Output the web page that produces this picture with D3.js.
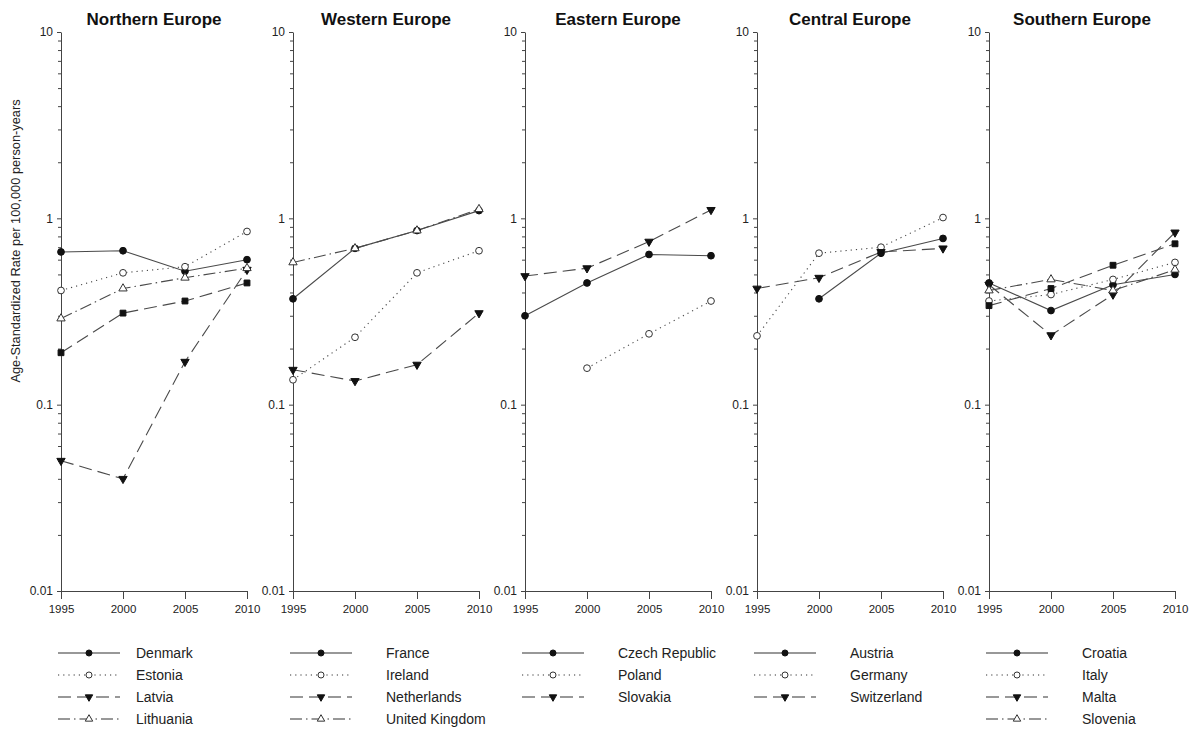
<!DOCTYPE html>
<html>
<head>
<meta charset="utf-8">
<script src="https://cdn.jsdelivr.net/npm/d3@7"></script>
<style>
  body { margin: 0; background: #ffffff; }
  svg { font-family: Arial, "Liberation Sans", sans-serif; }
  .axis path, .axis line { stroke: #444; }
</style>
</head>
<body>
<div id="chart"></div>
<script>
const WIDTH = 1191;
const HEIGHT = 729;

const PANEL_LEFT = [61, 293, 525, 757, 989];
const PANEL_WIDTH = 186;
const Y_TOP = 32;
const Y_BOTTOM = 591;

const LEGEND_TOP = 653;
const LEGEND_ROW = 22;

// data (log scale)
const years = [1995, 2000, 2005, 2010];
const regions = ["Northern Europe", "Western Europe", "Eastern Europe", "Central Europe", "Southern Europe"];
const yTicks = [0.01, 0.1, 1, 10];

const northernNames = ["Denmark", "Estonia", "Latvia", "Lithuania", ""];
const denmark = [0.66, 0.67, 0.52, 0.60];
const estonia = [0.41, 0.51, 0.55, 0.85];
const latvia = [0.05, 0.04, 0.17, 0.53];
const lithuania = [0.29, 0.42, 0.48, 0.54];
const northernSquares = [0.19, 0.31, 0.36, 0.45];

const westernNames = ["France", "Ireland", "Netherlands", "United Kingdom"];
const france = [0.37, 0.69, 0.86, 1.10];
const ireland = [0.136, 0.23, 0.51, 0.67];
const netherlands = [0.154, 0.134, 0.164, 0.31];
const unitedKingdom = [0.58, 0.69, 0.86, 1.12];

const easternNames = ["Czech Republic", "Poland", "Slovakia"];
const czechRepublic = [0.30, 0.45, 0.64, 0.63];
const poland = [null, 0.157, 0.24, 0.36];
const slovakia = [0.49, 0.54, 0.75, 1.11];

const centralNames = ["Austria", "Germany", "Switzerland"];
const austria = [null, 0.37, 0.65, 0.78];
const germany = [0.234, 0.65, 0.70, 1.01];
const switzerland = [0.42, 0.48, 0.66, 0.69];

const southernNames = ["Croatia", "Italy", "Malta", "Slovenia", ""];
const croatia = [0.45, 0.32, 0.44, 0.50];
const italy = [0.36, 0.39, 0.47, 0.58];
const malta = [0.44, 0.236, 0.39, 0.84];
const slovenia = [0.41, 0.47, 0.41, 0.53];
const southernSquares = [0.34, 0.42, 0.56, 0.73];

// style index per series: 0 solid/filled circle, 1 dotted/open circle,
// 2 dashed/down triangle, 3 dash-dot/open triangle, 4 dashed/filled square
const STYLES = [
  { dash: null, symbol: d3.symbolCircle, size: 36, fill: "#111", rotate: 0 },
  { dash: "1.2,4", symbol: d3.symbolCircle, size: 36, fill: "#fff", rotate: 0 },
  { dash: "13,6", symbol: d3.symbolTriangle, size: 30, fill: "#111", rotate: 180 },
  { dash: "12,4,1.5,4", symbol: d3.symbolTriangle, size: 30, fill: "#fff", rotate: 0 },
  { dash: "13,6", symbol: d3.symbolSquare, size: 34, fill: "#111", rotate: 0 }
];

const panels = [
  { names: northernNames, values: [denmark, estonia, latvia, lithuania, northernSquares], styles: [0, 1, 2, 3, 4] },
  { names: westernNames, values: [france, ireland, netherlands, unitedKingdom], styles: [0, 1, 2, 3] },
  { names: easternNames, values: [czechRepublic, poland, slovakia], styles: [0, 1, 2] },
  { names: centralNames, values: [austria, germany, switzerland], styles: [0, 1, 2] },
  { names: southernNames, values: [croatia, italy, malta, slovenia, southernSquares], styles: [0, 1, 2, 3, 4] }
];

function setCanvas() {
  return d3.select("#chart")
    .append("svg")
    .attr("width", WIDTH)
    .attr("height", HEIGHT);
}

function setScales(i) {
  let xScale = d3.scaleLinear()
    .domain([1995, 2010])
    .range([PANEL_LEFT[i], PANEL_LEFT[i] + PANEL_WIDTH]);
  let yScale = d3.scaleLog()
    .domain([0.01, 10])
    .range([Y_BOTTOM, Y_TOP]);
  return { xScale: xScale, yScale: yScale };
}

function drawAxes(canvas, scales, i) {
  // minor log ticks
  let minor = [];
  [0.01, 0.1, 1].forEach(dec => {
    for (let k = 2; k <= 9; k++) minor.push(dec * k);
  });
  canvas.append("g")
    .attr("class", "axis")
    .attr("transform", "translate(" + PANEL_LEFT[i] + ",0)")
    .call(d3.axisLeft(scales.yScale).tickValues(minor).tickSize(3).tickFormat(""))
    .call(g => g.select(".domain").remove());

  canvas.append("g")
    .attr("class", "axis")
    .attr("transform", "translate(" + PANEL_LEFT[i] + ",0)")
    .call(d3.axisLeft(scales.yScale).tickValues(yTicks).tickSize(4).tickSizeOuter(0).tickPadding(4)
      .tickFormat(d => String(d)))
    .call(g => g.selectAll("text").style("font-size", "12px").attr("fill", "#222"));

  canvas.append("g")
    .attr("class", "axis")
    .attr("transform", "translate(0," + Y_BOTTOM + ")")
    .call(d3.axisBottom(scales.xScale).tickValues(years).tickSize(8).tickSizeOuter(0).tickPadding(6)
      .tickFormat(d3.format("d")))
    .call(g => g.selectAll("text").style("font-size", "11.5px").attr("fill", "#222"));

  // title
  canvas.append("text")
    .attr("x", PANEL_LEFT[i] + PANEL_WIDTH / 2)
    .attr("y", 25)
    .attr("text-anchor", "middle")
    .style("font-size", "17px")
    .style("font-weight", "bold")
    .attr("fill", "#111")
    .text(regions[i]);
}

function symbolPath(style) {
  return d3.symbol().type(style.symbol).size(style.size)();
}

function drawSeries(canvas, scales, panel) {
  let line = d3.line()
    .defined(d => d.v !== null)
    .x(d => scales.xScale(d.year))
    .y(d => scales.yScale(d.v));

  panel.values.forEach((vals, k) => {
    let st = STYLES[panel.styles[k]];
    let pts = years.map((y, j) => ({ year: y, v: vals[j] }));
    canvas.append("path")
      .datum(pts)
      .attr("fill", "none")
      .attr("stroke", "#4a4a4a")
      .attr("stroke-width", 1.1)
      .attr("stroke-dasharray", st.dash)
      .attr("d", line);
  });

  panel.values.forEach((vals, k) => {
    let st = STYLES[panel.styles[k]];
    let pts = years.map((y, j) => ({ year: y, v: vals[j] })).filter(d => d.v !== null);
    canvas.selectAll(null)
      .data(pts)
      .enter()
      .append("path")
      .attr("d", symbolPath(st))
      .attr("transform", d => "translate(" + scales.xScale(d.year) + "," + scales.yScale(d.v) + ") rotate(" + st.rotate + ")")
      .attr("fill", st.fill)
      .attr("stroke", st.fill === "#fff" ? "#333" : "#111")
      .attr("stroke-width", 1);
  });
}

function drawLegend(canvas, panel, i) {
  let x0 = PANEL_LEFT[i] - 3;
  panel.names.forEach((name, k) => {
    if (name === "") return;
    let st = STYLES[panel.styles[k]];
    let y = LEGEND_TOP + k * LEGEND_ROW;
    canvas.append("line")
      .attr("x1", x0).attr("x2", x0 + 62)
      .attr("y1", y).attr("y2", y)
      .attr("stroke", "#333")
      .attr("stroke-width", 1.1)
      .attr("stroke-dasharray", st.dash);
    canvas.append("path")
      .attr("d", d3.symbol().type(st.symbol).size(st.size * 0.8)())
      .attr("transform", "translate(" + (x0 + 31) + "," + y + ") rotate(" + st.rotate + ")")
      .attr("fill", st.fill)
      .attr("stroke", st.fill === "#fff" ? "#333" : "#111");
    canvas.append("text")
      .attr("x", x0 + (i === 0 ? 78 : 96))
      .attr("y", y)
      .attr("dy", "0.35em")
      .style("font-size", "14px")
      .attr("fill", "#222")
      .text(name);
  });
}

function drawGraphic() {
  let canvas = setCanvas();
  panels.forEach((panel, i) => {
    let scales = setScales(i);
    drawAxes(canvas, scales, i);
    drawSeries(canvas, scales, panel);
    drawLegend(canvas, panel, i);
  });

  // y label, only once on the left
  canvas.append("text")
    .attr("transform", "translate(20," + 241 + ") rotate(-90)")
    .attr("text-anchor", "middle")
    .style("font-size", "12.8px")
    .attr("fill", "#222")
    .text("Age-Standardized Rate per 100,000 person-years");
}

drawGraphic();
</script>
</body>
</html>
